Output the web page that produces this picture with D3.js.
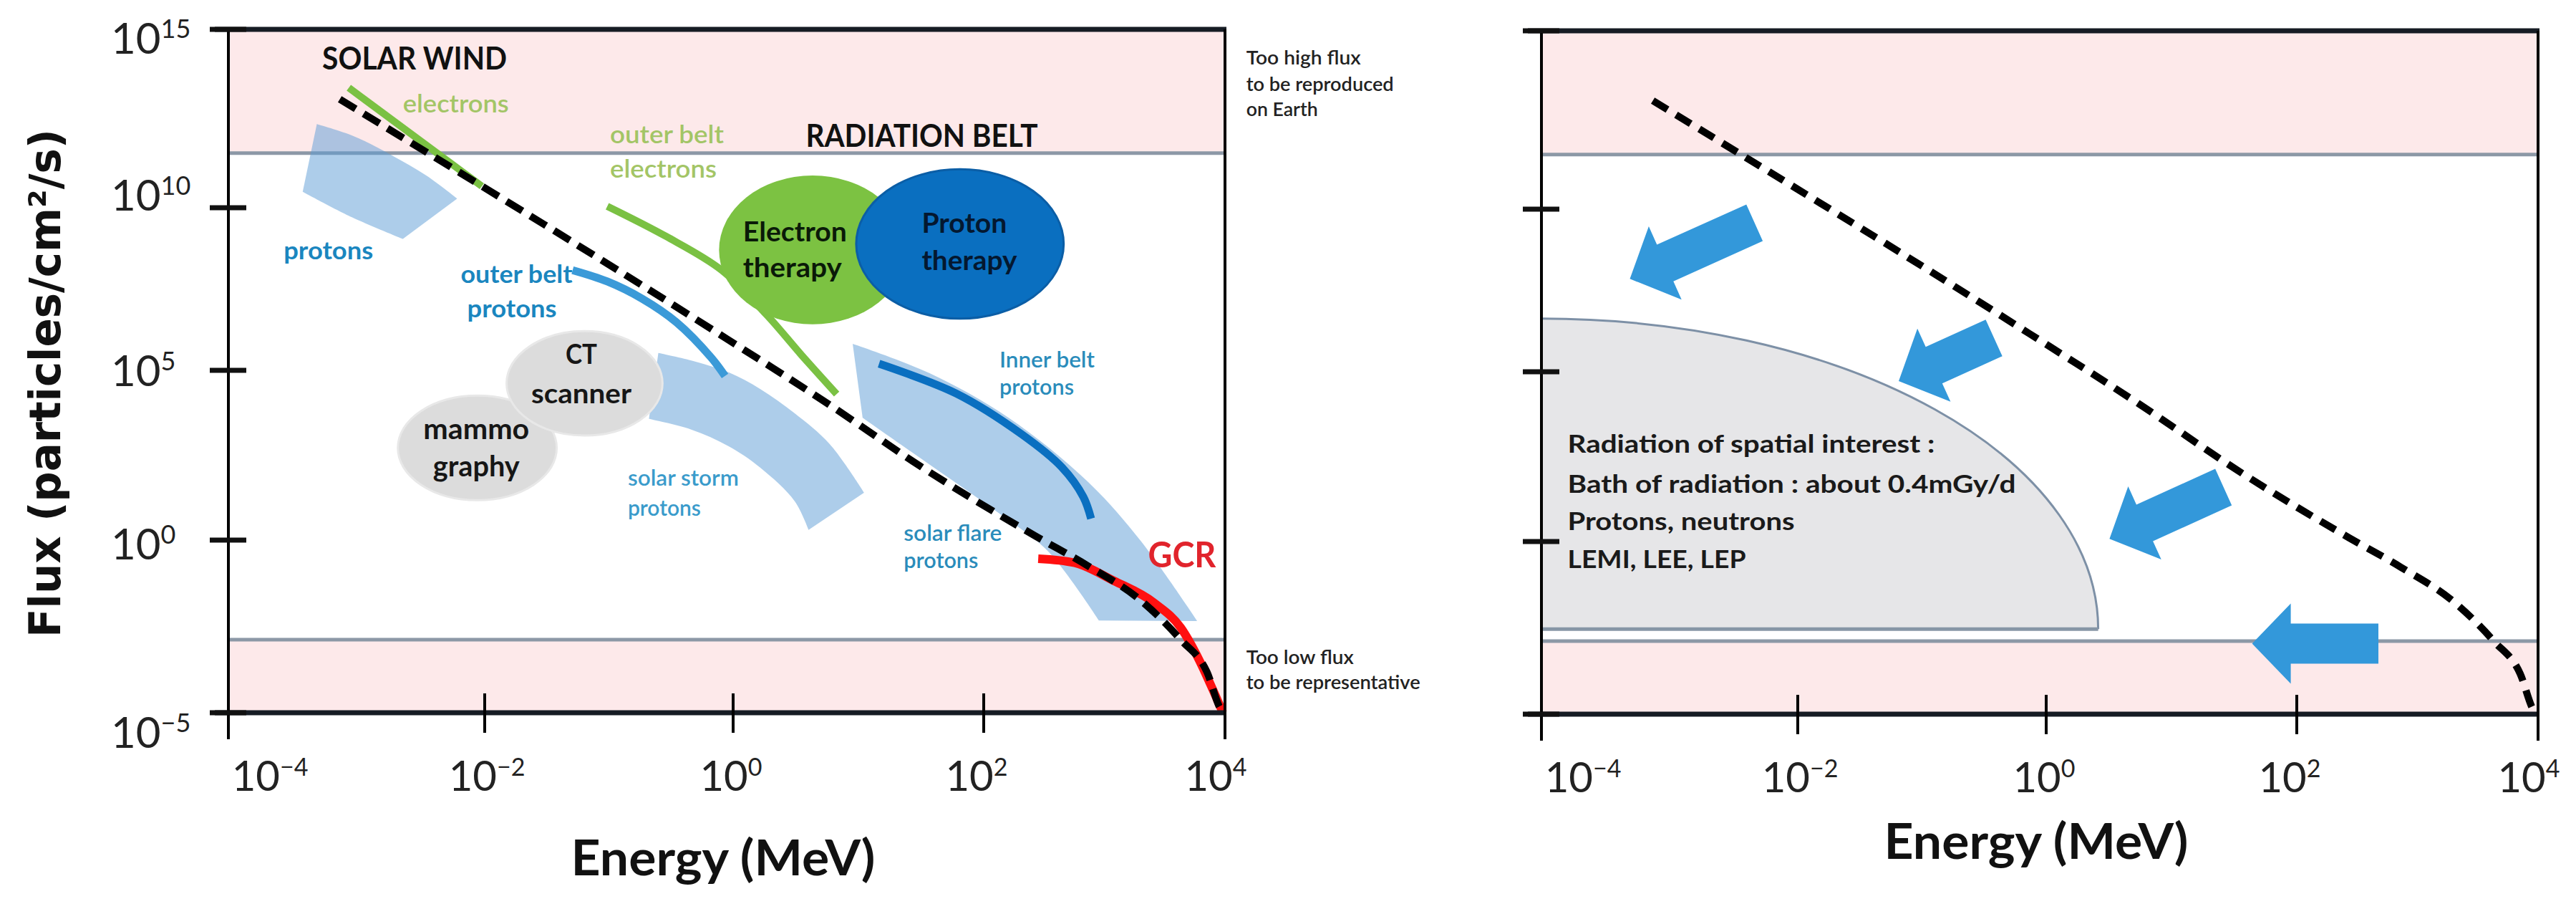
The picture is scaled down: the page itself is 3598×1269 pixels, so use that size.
<!DOCTYPE html>
<html><head><meta charset="utf-8">
<script src="https://cdn.jsdelivr.net/npm/d3@7"></script>
<style>body{margin:0;background:#fff}svg{display:block}</style>
</head><body>
<svg id="chart" width="3598" height="1269"></svg>
<script>
// ================= DATA =================
const energyTicks = [1e-4, 1e-2, 1, 1e2, 1e4];          // MeV
const energyTickExp = ["\u22124", "\u22122", "0", "2", "4"];
const fluxTicks = [1e15, 1e10, 1e5, 1, 1e-5];            // particles/cm2/s
const fluxTickExp = ["15", "10", "5", "0", "\u22125"];

const highFluxBand = [3.4e11, 1e15];
const lowFluxBand = [1e-5, 1.3e-3];

// [energy MeV, flux]
const limitCurve = [[7.4e-4,1.1e13],[0.73,1.5e6],[5.2,1.3e4],[37,100],[270,1.3],[730,0.18],[2.0e3,1.8e-2],[4.3e3,1.3e-3],[7.1e3,1.5e-4],[9.2e3,1.3e-5],[1e4,1e-5]];
const solarWindElectrons = [[8.7e-4,2.3e13],[9.5e-3,4.0e10]];
const solarWindProtonsUpper = [[4.9e-4,2.2e12],[9.6e-4,1.0e12],[1.9e-3,2.9e11],[3.5e-3,8.0e10],[6.1e-3,1.8e10]];
const solarWindProtonsLower = [[2.3e-3,1.1e9],[9.2e-4,5.1e9],[3.8e-4,2.8e10]];
const outerBeltElectrons = [[9.7e-2,1.1e10],[0.29,1.3e9],[0.81,1.2e8],[1.86,5.0e6],[3.5,3.0e5],[6.7,2.0e4]];
const outerBeltProtons = [[5.1e-2,1.2e8],[9.7e-2,5.4e7],[0.185,1.6e7],[0.35,3.0e6],[0.67,2.4e5],[0.86,6.8e4]];
const solarStormUpper = [[0.25,3.4e5],[0.46,2.0e5],[0.92,8.7e4],[1.65,2.8e4],[3.1,5.4e3],[5.9,670],[11.1,25]];
const solarStormLower = [[4.0,2.0],[3.1,14],[1.65,135],[0.92,580],[0.46,1.8e3],[0.21,3.7e3]];
const innerBeltBandUpper = [[9.0,6.5e5],[37,8.2e4],[161,4.0e3],[735,51],[2.0e3,0.95],[5.9e3,4.5e-3]];
const innerBeltBandLower = [[900,4.7e-3],[342,0.47],[143,5.2],[38,156],[10.8,4.0e3]];
const innerBeltProtons = [[14.6,1.6e5],[60,2.1e4],[207,1.3e3],[444,140],[668,19],[776,4.3]];
const gcr = [[283,0.29],[568,0.22],[1.2e3,6.6e-2],[2.6e3,1.5e-2],[4.3e3,2.9e-3],[6.1e3,3.4e-4],[7.9e3,4.8e-5],[9.6e3,1e-5]];

const applications = [
  {name:"mammography",      E:[2.1e-3, 3.8e-2], F:[15, 1.8e4]},
  {name:"CT scanner",       E:[1.5e-2, 0.27],   F:[1.2e3, 1.6e6]},
  {name:"Electron therapy", E:[0.77, 24],       F:[2.6e6, 8.0e10]},
  {name:"Proton therapy",   E:[9.6, 460],       F:[3.9e6, 1.2e11]}
];

const spatialRegion = {E:[1e-4, 2.6], F:[2.9e-3, 4.3e6]};
const arrows = [
  {from:[4.6e-3, 3.8e9], to:[4.9e-4, 7.2e7]},
  {from:[0.38, 1.1e6],   to:[6.5e-2, 5.3e4]},
  {from:[26, 40],        to:[3.2, 1.2]},
  {from:[475, 1.1e-3],   to:[44, 1.1e-3]}
];

const leftLabels = [
  {id:"solarWind", text:"SOLAR WIND", E:5.4e-4, F:7.6e13},
  {id:"swElectrons", text:"electrons", E:2.3e-3, F:4.7e12},
  {id:"obe1", text:"outer belt", E:0.102, F:6.5e11},
  {id:"obe2", text:"electrons", E:0.102, F:6.9e10},
  {id:"radBelt", text:"RADIATION BELT", E:3.8, F:5.1e11},
  {id:"swProtons", text:"protons", E:2.7e-4, F:2.6e8},
  {id:"obp1", text:"outer belt", E:6.5e-3, F:4.9e7},
  {id:"obp2", text:"protons", E:7.3e-3, F:4.3e6},
  {id:"ct1", text:"CT", E:0.06, F:1.55e5},
  {id:"ct2", text:"scanner", E:0.06, F:1.07e4},
  {id:"mm1", text:"mammo", E:8.6e-3, F:940},
  {id:"mm2", text:"graphy", E:8.6e-3, F:75},
  {id:"et1", text:"Electron", E:1.2, F:9.1e8},
  {id:"et2", text:"therapy", E:1.2, F:7.2e7},
  {id:"pt1", text:"Proton", E:32, F:1.7e9},
  {id:"pt2", text:"therapy", E:32, F:1.2e8},
  {id:"ss1", text:"solar storm", E:0.142, F:40},
  {id:"ss2", text:"protons", E:0.142, F:5.2},
  {id:"ib1", text:"Inner belt", E:135, F:1.2e5},
  {id:"ib2", text:"protons", E:135, F:1.9e4},
  {id:"sf1", text:"solar flare", E:23, F:0.95},
  {id:"sf2", text:"protons", E:23, F:0.155},
  {id:"gcr", text:"GCR", E:2.3e3, F:0.16},
  {id:"hi1", text:"Too high flux", E:1.5e4, F:1.05e14},
  {id:"hi2", text:"to be reproduced", E:1.5e4, F:1.9e13},
  {id:"hi3", text:"on Earth", E:1.5e4, F:3.7e12},
  {id:"lo1", text:"Too low flux", E:1.5e4, F:2.6e-4},
  {id:"lo2", text:"to be representative", E:1.5e4, F:4.8e-5}
];
const rightLabels = [
  {id:"r1", text:"Radiation of spatial interest :", E:1.6e-4, F:410},
  {id:"r2", text:"Bath of radiation : about 0.4mGy/d", E:1.6e-4, F:27},
  {id:"r3", text:"Protons, neutrons", E:1.6e-4, F:2.2},
  {id:"r4", text:"LEMI, LEE, LEP", E:1.6e-4, F:0.17}
];
const xTitle = "Energy (MeV)";
const yTitle = "Flux (particles/cm\u00b2/s)";

// ================= STYLE / LAYOUT =================
const FONT = "Lato, 'Open Sans', 'Liberation Sans', sans-serif";
const BLUE_T = "#1a86bf", GREEN_T = "#a3c566";
const labelStyle = {
  solarWind:{size:44,weight:700,color:"#111",width:258},
  swElectrons:{size:34,weight:600,color:GREEN_T,width:148},
  obe1:{size:34,weight:600,color:GREEN_T,width:159},
  obe2:{size:34,weight:600,color:GREEN_T,width:149},
  radBelt:{size:44,weight:700,color:"#111",width:324},
  swProtons:{size:34,weight:700,color:BLUE_T,width:125},
  obp1:{size:34,weight:700,color:BLUE_T,width:156},
  obp2:{size:34,weight:700,color:BLUE_T,width:125},
  ct1:{size:38,weight:700,color:"#161616",width:44,anchor:"middle"},
  ct2:{size:38,weight:700,color:"#161616",width:140,anchor:"middle"},
  mm1:{size:40,weight:700,color:"#161616",width:148,anchor:"middle"},
  mm2:{size:40,weight:700,color:"#161616",width:121,anchor:"middle"},
  et1:{size:38,weight:700,color:"#0a1a08",width:145},
  et2:{size:38,weight:700,color:"#0a1a08",width:138},
  pt1:{size:38,weight:700,color:"#041830",width:119},
  pt2:{size:38,weight:700,color:"#041830",width:133},
  ss1:{size:31,weight:600,color:"#3a9bcb",width:155},
  ss2:{size:31,weight:600,color:"#3a9bcb",width:102},
  ib1:{size:31,weight:600,color:"#2a8cbb",width:133},
  ib2:{size:31,weight:600,color:"#2a8cbb",width:104},
  sf1:{size:31,weight:600,color:"#2a8cbb",width:137},
  sf2:{size:31,weight:600,color:"#2a8cbb",width:104},
  gcr:{size:50,weight:700,color:"#e1242c",width:95},
  hi1:{size:27,weight:600,color:"#222",width:160},
  hi2:{size:27,weight:600,color:"#222",width:206},
  hi3:{size:27,weight:600,color:"#222",width:100},
  lo1:{size:27,weight:600,color:"#222",width:150},
  lo2:{size:27,weight:600,color:"#222",width:243},
  r1:{size:35,weight:700,color:"#1a1a1a",width:513},
  r2:{size:35,weight:700,color:"#1a1a1a",width:626},
  r3:{size:35,weight:700,color:"#1a1a1a",width:317},
  r4:{size:35,weight:700,color:"#1a1a1a",width:249}
};
const xLabelDx = [58, 3, -3, -10, -13];
const yLabelDy = [34, 4, 22, 27, 49];

// ================= SCALES =================
const svg = d3.select("#chart");
svg.append("rect").attr("width",3598).attr("height",1269).attr("fill","#fff");
const x = d3.scaleLog().domain(energyTicks).range([319, 677, 1024, 1374, 1711]);
const y = d3.scaleLog().domain(fluxTicks.slice().reverse()).range([995, 754, 517, 290, 41]);
const E0 = energyTicks[0], E1 = energyTicks[energyTicks.length-1];
const F0 = d3.min(fluxTicks), F1 = d3.max(fluxTicks);

const curveLine = d3.line().x(d=>x(d[0])).y(d=>y(d[1])).curve(d3.curveCatmullRom.alpha(0.5));
const monoLine = d3.line().x(d=>x(d[0])).y(d=>y(d[1])).curve(d3.curveMonotoneX);
function bandPath(upper, lower){
  return curveLine(upper) + curveLine(lower).replace(/^M/, "L") + "Z";
}

function drawBackground(g){
  [highFluxBand, lowFluxBand].forEach(b=>{
    g.append("rect").attr("x", x(E0)).attr("width", x(E1)-x(E0))
      .attr("y", y(b[1])).attr("height", y(b[0])-y(b[1])).attr("fill", "#fde9ea");
  });
  [highFluxBand[0], lowFluxBand[1]].forEach(v=>{
    g.append("line").attr("x1", x(E0)).attr("x2", x(E1)).attr("y1", y(v)).attr("y2", y(v))
      .attr("stroke", "#8c98a6").attr("stroke-width", 5);
  });
}
function drawLimit(g, dash){
  g.append("path").attr("d", monoLine(limitCurve)).attr("fill","none")
    .attr("stroke","#000").attr("stroke-width",10).attr("stroke-dasharray",dash);
}
function drawAxes(g, opt){
  const dark = "#161c24";
  g.append("line").attr("x1", x(E0)-19).attr("x2", x(E1)+2).attr("y1", y(F1)).attr("y2", y(F1))
    .attr("stroke", dark).attr("stroke-width", 7);
  g.append("line").attr("x1", x(E0)-19).attr("x2", x(E1)+2).attr("y1", y(F0)).attr("y2", y(F0))
    .attr("stroke", dark).attr("stroke-width", 7);
  [E0, E1].forEach(e=>{
    g.append("line").attr("x1", x(e)).attr("x2", x(e)).attr("y1", y(F1)).attr("y2", y(F0)+37)
      .attr("stroke", "#000").attr("stroke-width", 4);
  });
  g.selectAll(".xt").data(energyTicks.slice(1,-1)).join("line")
    .attr("x1", d=>x(d)).attr("x2", d=>x(d)).attr("y1", y(F0)-27).attr("y2", y(F0)+28)
    .attr("stroke", "#000").attr("stroke-width", 4);
  g.selectAll(".yt").data(fluxTicks).join("line")
    .attr("x1", x(E0)-26).attr("x2", x(E0)+25).attr("y1", d=>y(d)).attr("y2", d=>y(d))
    .attr("stroke", "#111").attr("stroke-width", 7);
  // x tick labels
  g.selectAll(".xl").data(energyTicks).join("text")
    .attr("x", (d,i)=>x(d)+xLabelDx[i]).attr("y", y(F0)+109)
    .attr("text-anchor","middle").attr("font-family",FONT).attr("font-size",58).attr("fill","#222")
    .each(function(d,i){
      const t = d3.select(this);
      t.append("tspan").text("10");
      t.append("tspan").attr("font-size",34).attr("dy",-21).text(energyTickExp[i]);
    });
  if (opt.yLabels){
    g.selectAll(".yl").data(fluxTicks).join("text")
      .attr("x", x(E0)-164).attr("y", (d,i)=>y(d)+yLabelDy[i])
      .attr("font-family",FONT).attr("font-size",60).attr("fill","#222")
      .each(function(d,i){
        const t = d3.select(this);
        t.append("tspan").text("10");
        t.append("tspan").attr("font-size",36).attr("dy",-22).text(fluxTickExp[i]);
      });
  }
  g.append("text").attr("x", (x(E0)+x(E1))/2 - 5).attr("y", opt.titleY)
    .attr("text-anchor","middle").attr("font-family",FONT).attr("font-weight",700)
    .attr("font-size",68).attr("fill","#111").attr("textLength",425).attr("lengthAdjust","spacingAndGlyphs")
    .text(xTitle);
}
function drawLabels(g, list){
  g.selectAll(null).data(list).join("text")
    .attr("x", d=>x(d.E)).attr("y", d=>y(d.F))
    .attr("font-family", FONT)
    .attr("font-size", d=>labelStyle[d.id].size)
    .attr("font-weight", d=>labelStyle[d.id].weight)
    .attr("fill", d=>labelStyle[d.id].color)
    .attr("text-anchor", d=>labelStyle[d.id].anchor || "start")
    .attr("textLength", d=>labelStyle[d.id].width)
    .attr("lengthAdjust", "spacingAndGlyphs")
    .text(d=>d.text);
}
function arrowPath(p0, p1, shaftW, headW, headL){
  const dx = p1[0]-p0[0], dy = p1[1]-p0[1], L = Math.hypot(dx,dy);
  const ux = dx/L, uy = dy/L, nx = -uy, ny = ux;
  const nb = [p1[0]-ux*headL, p1[1]-uy*headL];
  const pts = [
    [p0[0]+nx*shaftW/2, p0[1]+ny*shaftW/2],
    [nb[0]+nx*shaftW/2, nb[1]+ny*shaftW/2],
    [nb[0]+nx*headW/2, nb[1]+ny*headW/2],
    p1,
    [nb[0]-nx*headW/2, nb[1]-ny*headW/2],
    [nb[0]-nx*shaftW/2, nb[1]-ny*shaftW/2],
    [p0[0]-nx*shaftW/2, p0[1]-ny*shaftW/2]];
  return "M" + pts.map(p=>p[0].toFixed(1)+","+p[1].toFixed(1)).join("L") + "Z";
}

// ================= LEFT PANEL =================
const L = svg.append("g");
drawBackground(L);
const bandFill = "rgba(91,155,213,0.5)";
L.append("path").attr("d", bandPath(solarWindProtonsUpper, solarWindProtonsLower)).attr("fill", bandFill);
L.append("path").attr("d", bandPath(solarStormUpper, solarStormLower)).attr("fill", bandFill);
L.append("path").attr("d", bandPath(innerBeltBandUpper, innerBeltBandLower)).attr("fill", bandFill);

L.append("path").attr("d", curveLine(solarWindElectrons)).attr("fill","none").attr("stroke","#7ac143").attr("stroke-width",10);
L.append("path").attr("d", curveLine(outerBeltElectrons)).attr("fill","none").attr("stroke","#7ac143").attr("stroke-width",10);
L.append("path").attr("d", curveLine(outerBeltProtons)).attr("fill","none").attr("stroke","#3b9ad8").attr("stroke-width",11);
L.append("path").attr("d", curveLine(innerBeltProtons)).attr("fill","none").attr("stroke","#0a6fc0").attr("stroke-width",11);

const appStyle = {
  "mammography": {fill:"#dcdcdc", stroke:"#e8e8e8"},
  "CT scanner": {fill:"#dcdcdc", stroke:"#e8e8e8"},
  "Electron therapy": {fill:"#7cc242", stroke:"none"},
  "Proton therapy": {fill:"#0a6fc0", stroke:"#0b5ea6"}
};
L.selectAll(".app").data(applications).join("ellipse")
  .attr("cx", d=>(x(d.E[0])+x(d.E[1]))/2).attr("cy", d=>(y(d.F[0])+y(d.F[1]))/2)
  .attr("rx", d=>(x(d.E[1])-x(d.E[0]))/2).attr("ry", d=>(y(d.F[0])-y(d.F[1]))/2)
  .attr("fill", d=>appStyle[d.name].fill).attr("stroke", d=>appStyle[d.name].stroke).attr("stroke-width",3);

L.append("path").attr("d", monoLine(gcr)).attr("fill","none").attr("stroke","#ff1010").attr("stroke-width",12);
drawLimit(L, "26 13");
drawAxes(L, {yLabels:true, titleY:1222});
drawLabels(L, leftLabels);

L.append("text").attr("transform","translate(84,535) rotate(-90)")
  .attr("text-anchor","middle").attr("font-family","'DejaVu Sans', Verdana, sans-serif")
  .attr("font-weight",700).attr("font-size",60).attr("fill","#111")
  .attr("textLength",710).attr("lengthAdjust","spacingAndGlyphs").text(yTitle);

// ================= RIGHT PANEL =================
const R = svg.append("g").attr("transform","translate(1834,2)");
drawBackground(R);
{
  const xa = x(spatialRegion.E[0]), xb = x(spatialRegion.E[1]);
  const yt = y(spatialRegion.F[1]), yb = y(spatialRegion.F[0]);
  R.append("path").attr("d", `M${xa},${yb}L${xa},${yt}A${xb-xa},${yb-yt} 0 0 1 ${xb},${yb}Z`)
    .attr("fill","#e6e6e8");
  R.append("path").attr("d", `M${xa},${yt}A${xb-xa},${yb-yt} 0 0 1 ${xb},${yb}`)
    .attr("fill","none").attr("stroke","#7d90a6").attr("stroke-width",3);
  R.append("line").attr("x1",xa).attr("x2",xb).attr("y1",yb).attr("y2",yb)
    .attr("stroke","#8796a6").attr("stroke-width",5);
}
R.selectAll(".arrow").data(arrows).join("path")
  .attr("d", d=>arrowPath([x(d.from[0]), y(d.from[1])], [x(d.to[0]), y(d.to[1])], 56, 112, 54))
  .attr("fill","#3398da");
drawLimit(R, "24 14");
drawAxes(R, {yLabels:false, titleY:1197});
drawLabels(R, rightLabels);
</script>
</body></html>
